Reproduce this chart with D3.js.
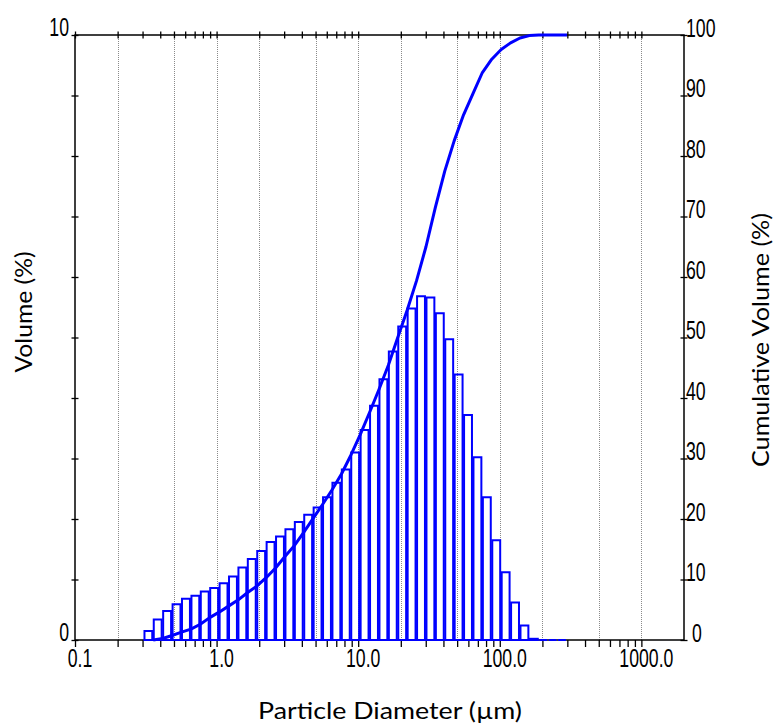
<!DOCTYPE html>
<html>
  <head>
    <meta charset="utf-8">
    <title>Particle Size Distribution</title>
    <script src="https://d3js.org/d3.v7.min.js"></script>
    <style>
      body { margin: 0; background: #fff; }
      .num { font-family: "Liberation Sans", Arial, sans-serif; font-size: 26px; fill: #000; }
      .title { font-family: Lato, "Open Sans", sans-serif; font-size: 23px; fill: #000; }
    </style>
  </head>
  <body>
    <div id="chart"></div>
    <script>
      // Bin edges (um), log spaced; volume % per bin; cumulative % at each upper edge.
      var binEdges = [0.307, 0.357, 0.416, 0.485, 0.565, 0.659, 0.767, 0.894, 1.042, 1.214,
                      1.415, 1.648, 1.921, 2.238, 2.608, 3.039, 3.540, 4.125, 4.807, 5.601,
                      6.526, 7.603, 8.860, 10.32, 12.03, 14.02, 16.33, 19.03, 22.17, 25.84,
                      30.11, 35.08, 40.87, 47.62, 55.49, 64.66, 75.34, 87.78, 102.3, 119.2,
                      138.9, 161.8, 188.6, 219.7, 256.0, 298.3];
      var volume = [0.15, 0.34, 0.48, 0.59, 0.68, 0.73, 0.80, 0.86, 0.94, 1.05,
                    1.20, 1.34, 1.47, 1.62, 1.71, 1.83, 1.95, 2.07, 2.19, 2.36,
                    2.60, 2.82, 3.10, 3.47, 3.87, 4.31, 4.77, 5.18, 5.48, 5.68,
                    5.66, 5.40, 4.97, 4.39, 3.72, 3.02, 2.36, 1.65, 1.12, 0.62,
                    0.24, 0.02, 0, 0, 0];
      var cumulative = [0, 0.25, 0.75, 1.3, 1.8, 2.6, 3.7, 4.6, 5.6, 6.6,
                        7.8, 8.9, 10.3, 11.9, 13.8, 15.6, 17.8, 20.1, 22.4, 24.8,
                        27.4, 30.5, 33.9, 37.6, 41.4, 45.4, 50.0, 54.5, 59.4, 65.0,
                        71.5, 77.5, 82.5, 86.8, 90.3, 93.8, 96.0, 97.6, 98.7, 99.5,
                        99.9, 100, 100, 100, 100];
      var xTickValues = [0.1, 1, 10, 100, 1000];
      var xTickLabels = ["0.1", "1.0", "10.0", "100.0", "1000.0"];
      var gridValues = [0.2, 0.5, 1, 2, 5, 10, 20, 50, 100, 200, 500, 1000];
      var leftTicks = [0, 1, 2, 3, 4, 5, 6, 7, 8, 9, 10];
      var leftLabels = [0, 10];
      var rightTicks = [0, 10, 20, 30, 40, 50, 60, 70, 80, 90, 100];

      var width = 774, height = 724;
      var plot = {left: 75, right: 684, top: 35, bottom: 640};
      var blue = "#0000ff";
      var squeeze = 0.68;   // the numbers in the original are tall and narrow

      var svg = d3.select("#chart").append("svg")
          .attr("width", width).attr("height", height);

      var x = d3.scaleLog().domain([0.1, 2000]).range([plot.left, plot.right]);
      var y = d3.scaleLinear().domain([0, 10]).range([plot.bottom, plot.top]);
      var yCum = d3.scaleLinear().domain([0, 100]).range([plot.bottom, plot.top]);

      // dotted vertical grid
      svg.append("g").selectAll("line").data(gridValues).enter().append("line")
          .attr("x1", function (d) { return Math.round(x(d)) + 0.5; })
          .attr("x2", function (d) { return Math.round(x(d)) + 0.5; })
          .attr("y1", plot.top).attr("y2", plot.bottom)
          .attr("stroke", "#8a8a8a")
          .attr("stroke-dasharray", "1,1");

      // frame
      svg.append("rect")
          .attr("x", plot.left).attr("y", plot.top)
          .attr("width", plot.right - plot.left).attr("height", plot.bottom - plot.top)
          .attr("fill", "none").attr("stroke", "#000").attr("stroke-width", 1.5);

      var minor = x.ticks().filter(function (d) { return d <= 1000; });

      // bottom ticks (outward)
      var gxb = svg.append("g").attr("transform", "translate(0," + plot.bottom + ")")
          .call(d3.axisBottom(x).tickValues(minor).tickSize(7).tickFormat(""));
      gxb.select(".domain").remove();
      gxb.selectAll(".tick line").attr("stroke-width", 1.3);

      // top ticks (crossing)
      var gxt = svg.append("g").attr("transform", "translate(0," + plot.top + ")")
          .call(d3.axisTop(x).tickValues(minor).tickSize(7).tickFormat(""));
      gxt.select(".domain").remove();
      gxt.selectAll(".tick line").attr("y1", 3.5).attr("y2", -3.5).attr("stroke-width", 1.3);

      // left ticks (crossing)
      var gyl = svg.append("g").attr("transform", "translate(" + plot.left + ",0)")
          .call(d3.axisLeft(y).tickValues(leftTicks).tickSize(7).tickFormat(""));
      gyl.select(".domain").remove();
      gyl.selectAll(".tick line").attr("x1", 3.5).attr("x2", -3.5).attr("stroke-width", 1.3);

      // right ticks (crossing)
      var gyr = svg.append("g").attr("transform", "translate(" + plot.right + ",0)")
          .call(d3.axisRight(yCum).tickValues(rightTicks).tickSize(7).tickFormat(""));
      gyr.select(".domain").remove();
      gyr.selectAll(".tick line").attr("x1", -3.5).attr("x2", 3.5).attr("stroke-width", 1.3);

      // histogram bars (outlines only)
      svg.append("g").selectAll("path").data(volume).enter().append("path")
          .attr("d", function (d, i) {
            var x0 = x(binEdges[i]) + 0.5, x1 = x(binEdges[i + 1]) - 1;
            return "M" + x0 + "," + y(0) + "V" + y(d) + "H" + x1 + "V" + y(0) + "Z";
          })
          .attr("fill", "none")
          .attr("stroke", blue)
          .attr("stroke-width", 2);

      // cumulative curve
      var line = d3.line()
          .x(function (d) { return x(d[0]); })
          .y(function (d) { return yCum(d[1]); });
      svg.append("path")
          .datum(d3.zip(binEdges.slice(1), cumulative))
          .attr("d", line)
          .attr("fill", "none")
          .attr("stroke", blue)
          .attr("stroke-width", 3)
          .attr("stroke-linejoin", "round");

      function num(px, py, str, anchor) {
        svg.append("text").attr("class", "num")
            .attr("transform", "translate(" + px + "," + py + ") scale(" + squeeze + ",1)")
            .attr("text-anchor", anchor)
            .text(str);
      }

      xTickValues.forEach(function (d, i) { num(x(d) + 5, 667, xTickLabels[i], "middle"); });
      leftLabels.forEach(function (d) { num(plot.left - 6, y(d) + 0.5, String(d), "end"); });
      rightTicks.forEach(function (d) {
        num(plot.right + (d === 0 ? 8 : 2), yCum(d) + 1.5, String(d), "start");
      });

      // axis titles
      svg.append("text").attr("class", "title")
          .attr("x", 390).attr("y", 719)
          .attr("text-anchor", "middle")
          .attr("textLength", 264).attr("lengthAdjust", "spacingAndGlyphs")
          .text("Particle Diameter (\u00b5m)");
      svg.append("text").attr("class", "title")
          .attr("transform", "translate(32,312) rotate(-90)")
          .attr("text-anchor", "middle")
          .attr("textLength", 121).attr("lengthAdjust", "spacingAndGlyphs")
          .text("Volume (%)");
      svg.append("text").attr("class", "title")
          .attr("transform", "translate(769,340) rotate(-90)")
          .attr("text-anchor", "middle")
          .attr("textLength", 254).attr("lengthAdjust", "spacingAndGlyphs")
          .text("Cumulative Volume (%)");
    </script>
  </body>
</html>
